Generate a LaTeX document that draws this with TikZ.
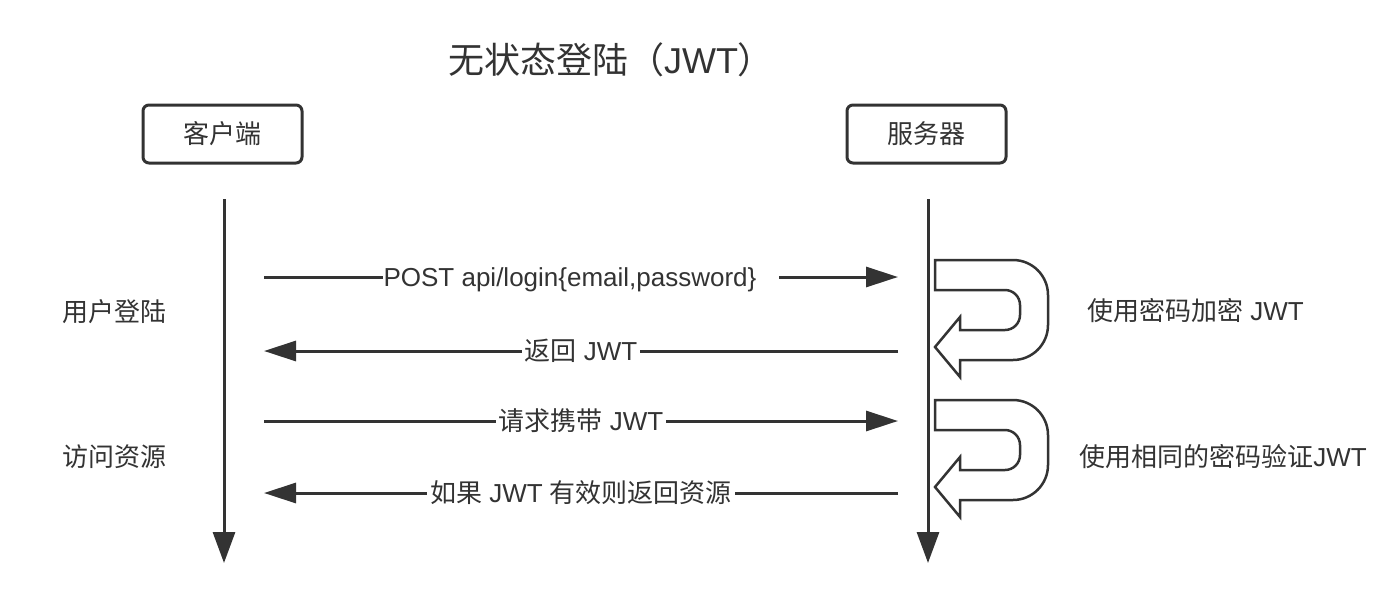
\documentclass[tikz,border=0pt]{standalone}
\usepackage{fontspec}
\setmainfont{Liberation Sans}
\newfontfamily\cjk{Noto Sans CJK SC}
\usetikzlibrary{arrows.meta}
\definecolor{ink}{HTML}{333333}

\tikzset{
  box/.style={draw=ink, line width=1.5pt, rounded corners=3pt, minimum width=79.5pt, minimum height=29pt, text=ink, font=\cjk\fontsize{13}{15}\selectfont},
  msg/.style={draw=ink, line width=1.5pt, -{Triangle[length=16pt,width=10pt]}},
  life/.style={draw=ink, line width=1.5pt, -{Triangle[length=15.5pt,width=11pt]}},
  lbl/.style={fill=white, inner sep=1.5pt, text=ink, font=\fontsize{13}{15}\selectfont},
  note/.style={text=ink, font=\fontsize{13}{15}\selectfont},
  uturn/.style={draw=ink, line width=1.25pt, fill=white},
}

\begin{document}
\begin{tikzpicture}[x=0.5pt,y=-0.5pt]

% white page
\useasboundingbox[fill=white] (0,0) rectangle (1398,606);

% title
\node[text=ink, font=\fontsize{18}{22}\selectfont] (title) at (611,60) {{\cjk 无状态登陆（}JWT{\cjk ）}};

% the two parties
\node[box] (client) at (222.5,134) {客户端};
\node[box] (server) at (926.5,134) {服务器};

% life lines
\coordinate (clienttop) at (224,199);
\coordinate (clientend) at (224,563);
\coordinate (servertop) at (928,199);
\coordinate (serverend) at (928,563);
\draw[life] (clienttop) -- (clientend);
\draw[life] (servertop) -- (serverend);

% message ends
\coordinate (c1) at (264,277);  \coordinate (s1) at (898,277);
\coordinate (c2) at (264,351);  \coordinate (s2) at (898,351);
\coordinate (c3) at (264,421);  \coordinate (s3) at (898,421);
\coordinate (c4) at (264,493);  \coordinate (s4) at (898,493);

% messages
\draw[msg] (c1) -- (s1) node[lbl, inner sep=0.5pt, midway, yshift=-1.5pt] (m1) {POST api/login\{email,password\}\kern11pt\relax};
\draw[msg] (s2) -- (c2) node[lbl, midway] (m2) {{\cjk 返回} JWT};
\draw[msg] (c3) -- (s3) node[lbl, midway] (m3) {{\cjk 请求携带} JWT};
\draw[msg] (s4) -- (c4) node[lbl, midway] (m4) {{\cjk 如果} JWT {\cjk 有效则返回资源}};

% steps on the left
\node[note] (login) at (114,312) {\cjk 用户登陆};
\node[note] (access) at (114,457) {\cjk 访问资源};

% server work, u-turn arrows
\foreach \d in {0,140} {
  \begin{scope}[shift={(0,\d)}]
    \draw[uturn] (935,260) -- (1013,260) arc[start angle=-90, end angle=0, radius=35]
      -- (1048,325) arc[start angle=0, end angle=90, radius=35]
      -- (960,360) -- (960,377) -- (935,347) -- (960,317) -- (960,330)
      -- (1005,330) arc[start angle=90, end angle=0, radius=15]
      -- (1020,305) arc[start angle=0, end angle=-90, radius=15]
      -- (935,290) -- cycle;
  \end{scope}
}

\node[note] (encrypt) at (1195.5,311) {{\cjk 使用密码加密} JWT};
\node[note] (verify) at (1223,457) {{\cjk 使用相同的密码验证}JWT};

\end{tikzpicture}
\end{document}
